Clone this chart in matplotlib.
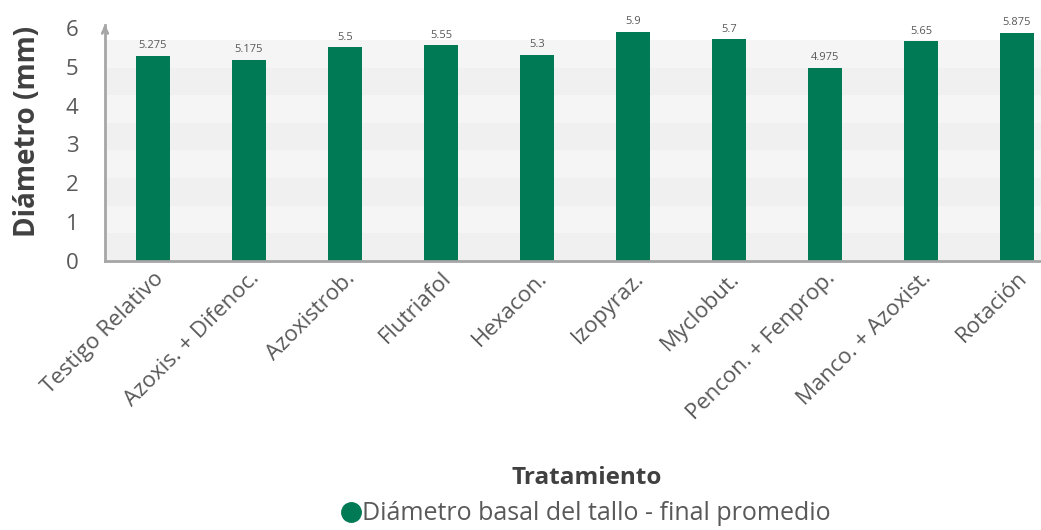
import matplotlib
matplotlib.use("Agg")
import matplotlib.pyplot as plt
from matplotlib.lines import Line2D

categories = ["Testigo Relativo", "Azoxis. + Difenoc.", "Azoxistrob.", "Flutriafol", "Hexacon.",
              "Izopyraz.", "Myclobut.", "Pencon. + Fenprop.", "Manco. + Azoxist.", "Rotación"]
values = [5.275, 5.175, 5.5, 5.55, 5.3, 5.9, 5.7, 4.975, 5.65, 5.875]
labels = ["5.275", "5.175", "5.5", "5.55", "5.3", "5.9", "5.7", "4.975", "5.65", "5.875"]
yticks = [0, 1, 2, 3, 4, 5, 6]

plt.rcParams['font.family'] = ['Open Sans', 'DejaVu Sans']
GREEN = '#007A55'
W, H = 1041, 530
fig = plt.figure(figsize=(W / 100, H / 100), dpi=100)
left, right, bottom, top = 105, 1041, 261, 22
ax = fig.add_axes([left / W, 1 - bottom / H, (right - left) / W, (bottom - top) / H])

ymax = 6.15
ax.set_ylim(0, ymax)
ax.set_xlim(-0.5, 9.25)

# background bands
nb = 8
band_top = 5.69
bh = band_top / nb
for i in range(nb):
    ax.axhspan(i * bh, (i + 1) * bh, color='#f0f0f0' if i % 2 == 0 else '#f5f5f5', lw=0, zorder=0)

x = list(range(len(categories)))
ax.bar(x, values, width=0.355, color=GREEN, zorder=2)
for xi, v, lab in zip(x, values, labels):
    ax.text(xi, v + 0.12, lab, ha='center', va='bottom', fontsize=8, color='#595959', zorder=3)

for s in ['top', 'right']:
    ax.spines[s].set_visible(False)
for s in ['left', 'bottom']:
    ax.spines[s].set_color('#a6a6a6')
    ax.spines[s].set_linewidth(2)
ax.spines['left'].set_bounds(0, 6.08)
ax.annotate('', xy=(-0.5, ymax), xytext=(-0.5, 5.9), xycoords='data',
            arrowprops=dict(arrowstyle='->', color='#a6a6a6', lw=2), annotation_clip=False)

ax.set_yticks(yticks)
ax.set_yticklabels([str(t) for t in yticks], fontsize=16, color='#595959')
ax.tick_params(axis='y', length=0, pad=19)
ax.set_xticks(x)
ax.set_xticklabels(categories, rotation=45, ha='right', rotation_mode='anchor', fontsize=16, color='#595959')
ax.tick_params(axis='x', length=0, pad=5)

ax.set_ylabel('Diámetro (mm)', fontsize=20, fontweight='bold', color='#404040')
ax.yaxis.set_label_coords((42 - left) / (right - left), (bottom - 131) / (bottom - top))

fig.text(587 / W, 1 - 478 / H, 'Tratamiento', ha='center', va='center', fontsize=17.5,
         fontweight='bold', color='#404040')

h = Line2D([], [], marker='o', color='none', markerfacecolor=GREEN, markeredgecolor=GREEN, markersize=14)
fig.legend([h], ['Diámetro basal del tallo - final promedio'], loc='center',
           bbox_to_anchor=(585 / W, 1 - 514 / H), frameon=False, fontsize=18,
           labelcolor='#595959', handletextpad=0.0, handlelength=0.9)

fig.savefig('out.png', dpi=100)
